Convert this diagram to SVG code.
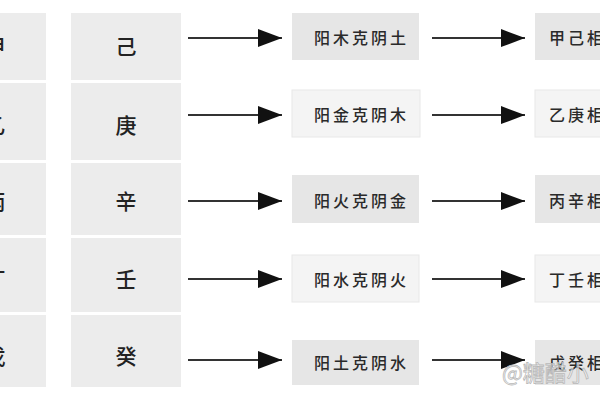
<svg xmlns="http://www.w3.org/2000/svg" width="600" height="400" viewBox="0 0 600 400">
<style>
.col{fill:#ececec;}
.dk{fill:#e6e6e6;}
.lt{fill:#f4f4f4;stroke:#e8e8e8;stroke-width:1;}
.stem{font-family:"Noto Sans CJK SC","Noto Sans CJK JP",sans-serif;font-size:21px;font-weight:500;fill:#222;text-anchor:middle;dominant-baseline:central;}
.lbl{font-family:"Noto Sans CJK SC","Noto Sans CJK JP",sans-serif;font-size:16px;font-weight:500;fill:#2a2a2a;letter-spacing:3px;dominant-baseline:central;}
.conn{stroke:#333;stroke-width:2;fill:none;marker-end:url(#ah);}
.wm{font-family:"Noto Sans CJK SC",sans-serif;font-size:22px;fill:#ffffff;fill-opacity:0.55;stroke:#b8b8b8;stroke-width:0.8;dominant-baseline:central;}
</style>
<defs>
<marker id="ah" markerUnits="userSpaceOnUse" markerWidth="26" markerHeight="20" refX="24" refY="10" orient="auto">
<path d="M0,1 L24,10 L0,19 Z" fill="#111"/>
</marker>
</defs>
<rect width="600" height="400" fill="#ffffff"/>

<g id="col-left">
<g id="n-jia"><rect class="col" x="0" y="13" width="46" height="67"/><text class="stem" x="-5" y="45">甲</text></g>
<g id="n-yi"><rect class="col" x="0" y="83" width="46" height="77"/><text class="stem" x="-5" y="124">乙</text></g>
<g id="n-bing"><rect class="col" x="0" y="163" width="46" height="72"/><text class="stem" x="-5" y="200">丙</text></g>
<g id="n-ding"><rect class="col" x="0" y="238" width="46" height="74"/><text class="stem" x="-5" y="278">丁</text></g>
<g id="n-wu"><rect class="col" x="0" y="315" width="46" height="72"/><text class="stem" x="-5" y="355">戊</text></g>
</g>

<g id="col-mid">
<g id="n-ji"><rect class="col" x="71" y="13" width="110" height="67"/><text class="stem" x="126" y="45">己</text></g>
<g id="n-geng"><rect class="col" x="71" y="83" width="110" height="77"/><text class="stem" x="126" y="124">庚</text></g>
<g id="n-xin"><rect class="col" x="71" y="163" width="110" height="72"/><text class="stem" x="126" y="200">辛</text></g>
<g id="n-ren"><rect class="col" x="71" y="238" width="110" height="74"/><text class="stem" x="126" y="278">壬</text></g>
<g id="n-gui"><rect class="col" x="71" y="315" width="110" height="72"/><text class="stem" x="126" y="355">癸</text></g>
</g>

<g id="rel-1"><rect class="dk" x="292" y="13" width="127" height="47"/><text class="lbl" x="314" y="37">阳木克阴土</text></g>
<g id="rel-2"><rect class="lt" x="292" y="90" width="128" height="47"/><text class="lbl" x="314" y="114">阳金克阴木</text></g>
<g id="rel-3"><rect class="dk" x="292" y="175" width="127" height="48"/><text class="lbl" x="314" y="200">阳火克阴金</text></g>
<g id="rel-4"><rect class="lt" x="292" y="255" width="127" height="47"/><text class="lbl" x="314" y="279">阳水克阴火</text></g>
<g id="rel-5"><rect class="dk" x="292" y="340" width="127" height="45"/><text class="lbl" x="314" y="362">阳土克阴水</text></g>

<g id="res-1"><rect class="dk" x="535" y="13" width="70" height="47"/><text class="lbl" x="549" y="37">甲己相合</text></g>
<g id="res-2"><rect class="lt" x="535" y="90" width="70" height="47"/><text class="lbl" x="549" y="114">乙庚相合</text></g>
<g id="res-3"><rect class="dk" x="535" y="175" width="70" height="48"/><text class="lbl" x="549" y="200">丙辛相合</text></g>
<g id="res-4"><rect class="lt" x="535" y="255" width="70" height="47"/><text class="lbl" x="549" y="279">丁壬相合</text></g>
<g id="res-5"><rect class="dk" x="535" y="340" width="70" height="45"/><text class="lbl" x="549" y="362">戊癸相合</text></g>

<g id="connectors">
<line class="conn" x1="188" y1="38" x2="282" y2="38"/>
<line class="conn" x1="188" y1="115" x2="282" y2="115"/>
<line class="conn" x1="188" y1="201" x2="282" y2="201"/>
<line class="conn" x1="188" y1="279" x2="282" y2="279"/>
<line class="conn" x1="188" y1="360" x2="282" y2="360"/>
<line class="conn" x1="432" y1="38" x2="525" y2="38"/>
<line class="conn" x1="432" y1="115" x2="525" y2="115"/>
<line class="conn" x1="432" y1="201" x2="525" y2="201"/>
<line class="conn" x1="432" y1="279" x2="525" y2="279"/>
<line class="conn" x1="432" y1="360" x2="525" y2="360"/>
</g>

<text class="wm" x="502" y="371">@糖醋小</text>
</svg>
